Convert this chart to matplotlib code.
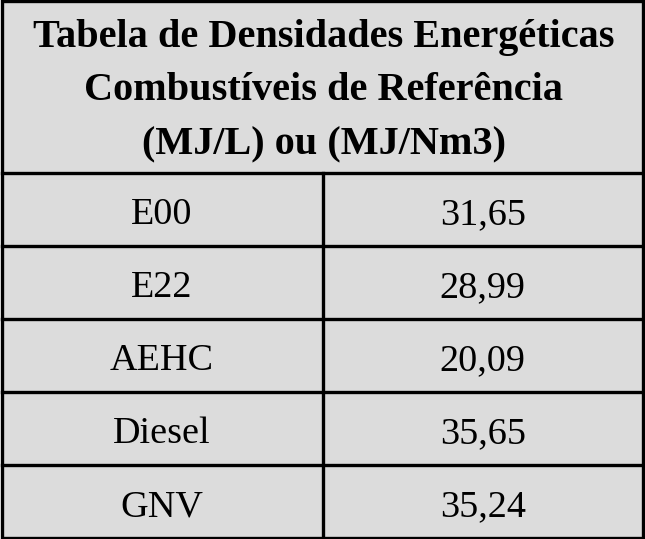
import matplotlib
matplotlib.use('Agg')
import matplotlib.pyplot as plt

titulo = ['Tabela de Densidades Energéticas',
          'Combustíveis de Referência',
          '(MJ/L) ou (MJ/Nm3)']
combustiveis = ['E00', 'E22', 'AEHC', 'Diesel', 'GNV']
densidades = [31.65, 28.99, 20.09, 35.65, 35.24]

W, H = 645, 539
fig = plt.figure(figsize=(W / 100, H / 100), dpi=100)
fig.patch.set_facecolor('white')
ax = fig.add_axes([0, 0, 1, 1])
ax.set_xlim(0, W)
ax.set_ylim(H, 0)
ax.axis('off')

bg = '#dcdcdc'
lw = 2.4
left, right, top, bottom = 1.5, 643, 1, 537.5
head_bottom = 172.5
mid = 322.5
row_h = (bottom - head_bottom) / len(combustiveis)

ax.add_patch(plt.Rectangle((left, top), right - left, bottom - top,
                           facecolor=bg, edgecolor='black', lw=lw))
ax.plot([left, right], [head_bottom, head_bottom], color='black', lw=lw)
ax.plot([mid, mid], [head_bottom, bottom], color='black', lw=lw)

font = ['Liberation Serif', 'DejaVu Serif']
for i, linha in enumerate(titulo):
    ax.text(W / 2 + 1, 37 + 54 * i, linha, ha='center', va='center',
            fontsize=29, fontweight='bold', family=font)

for i, (nome, val) in enumerate(zip(combustiveis, densidades)):
    y0 = head_bottom + i * row_h
    if i > 0:
        ax.plot([left, right], [y0, y0], color='black', lw=lw)
    yc = y0 + row_h / 2 + 6
    ax.text((left + mid) / 2, yc, nome, ha='center', va='center',
            fontsize=27.5, family=font)
    ax.text((mid + right) / 2, yc, f'{val:.2f}'.replace('.', ','),
            ha='center', va='center', fontsize=27.5, family=font)

fig.savefig('out.png', dpi=100)
